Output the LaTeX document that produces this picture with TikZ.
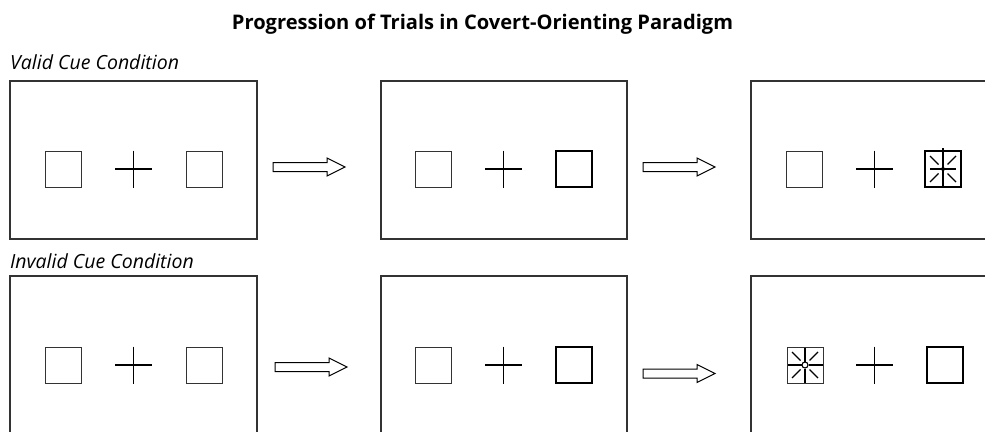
\documentclass[tikz,border=0pt]{standalone}
\usepackage{fontspec}
\setmainfont{Open Sans}

\tikzset{
  screen/.style={draw=black!80, line width=1.3pt},
  placeholder/.style={draw=black!80, line width=1pt},
  cued/.style={draw=black, line width=2.8pt},
  fixation/.style={draw=black, line width=1.3pt},
  ray/.style={draw=black, line width=1.1pt},
  nextarrow/.style={draw=black, line width=1pt, fill=white, line join=miter},
}

% one placeholder box, centred at (x,y)
\newcommand{\placebox}[3][placeholder]{\draw[#1] (#2-18,#3-18) rectangle (#2+18,#3+18);}
% fixation cross
\newcommand{\fixcross}[2]{\draw[fixation] (#1-18.5,#2) -- (#1+18.5,#2) (#1,#2-18.5) -- (#1,#2+18.5);}
% block arrow, tip at (x,y)
\newcommand{\trialarrow}[2]{\draw[nextarrow] (#1-72,#2-4.5) -- (#1-18,#2-4.5) -- (#1-18,#2-9) -- (#1,#2) -- (#1-18,#2+9) -- (#1-18,#2+4.5) -- (#1-72,#2+4.5) -- cycle;}
% target star in a box
\newcommand{\target}[3]{%
  \draw[ray] (#1-13,#2-13) -- (#1-4.5,#2-4.5) (#1+13,#2-13) -- (#1+4.5,#2-4.5)
             (#1-13,#2+13) -- (#1-4.5,#2+4.5) (#1+13,#2+13) -- (#1+4.5,#2+4.5);
  #3}

\begin{document}
\begin{tikzpicture}[x=1pt,y=-1pt]
  \useasboundingbox (0,0) rectangle (985,431);
  \clip (0,0) rectangle (985,431);

  \node[font=\bfseries\fontsize{20.1}{24}\selectfont, anchor=base] (title) at (482.5,29) {Progression of Trials in Covert-Orienting Paradigm};
  \node[font=\itshape\fontsize{19.5}{22}\selectfont, anchor=base west, inner sep=0] (valid) at (10,69) {Valid Cue Condition};
  \node[font=\itshape\fontsize{19.5}{22}\selectfont, anchor=base west, inner sep=0] (invalid) at (10,268) {Invalid Cue Condition};

  % valid row
  \draw[screen] (10,81) rectangle (257,239);
  \draw[screen] (381,81) rectangle (627,239);
  \draw[screen] (751,81) rectangle (998,239);
  \placebox{63}{169} \fixcross{133.5}{169} \placebox{204}{169}
  \placebox{433}{169} \fixcross{503.5}{169} \placebox[cued]{574}{169}
  \placebox{804}{169} \fixcross{874.5}{169}
  \target{943}{169}{%
    \draw[ray] (930,169) -- (956,169) (943,148) -- (943,187);
    \fill (943,169) circle (2);
    \draw[cued] (925,151) rectangle (961,187);}
  \trialarrow{345}{167}
  \trialarrow{715}{167}

  % invalid row
  \draw[screen] (10,276) rectangle (257,434);
  \draw[screen] (381,276) rectangle (627,434);
  \draw[screen] (751,276) rectangle (998,434);
  \placebox{63}{365} \fixcross{133.5}{365} \placebox{204}{365}
  \placebox{433}{365} \fixcross{503.5}{365} \placebox[cued]{574}{365}
  \target{805}{365}{%
    \draw[ray] (787,365) -- (801.5,365) (808.5,365) -- (823,365)
               (805,347) -- (805,361.5) (805,368.5) -- (805,383);
    \draw[ray] (805,365) circle (3);
    \placebox{805}{365}}
  \fixcross{874.5}{365} \placebox[cued]{945}{365}
  \trialarrow{347}{367}
  \trialarrow{715}{373.5}
\end{tikzpicture}
\end{document}
